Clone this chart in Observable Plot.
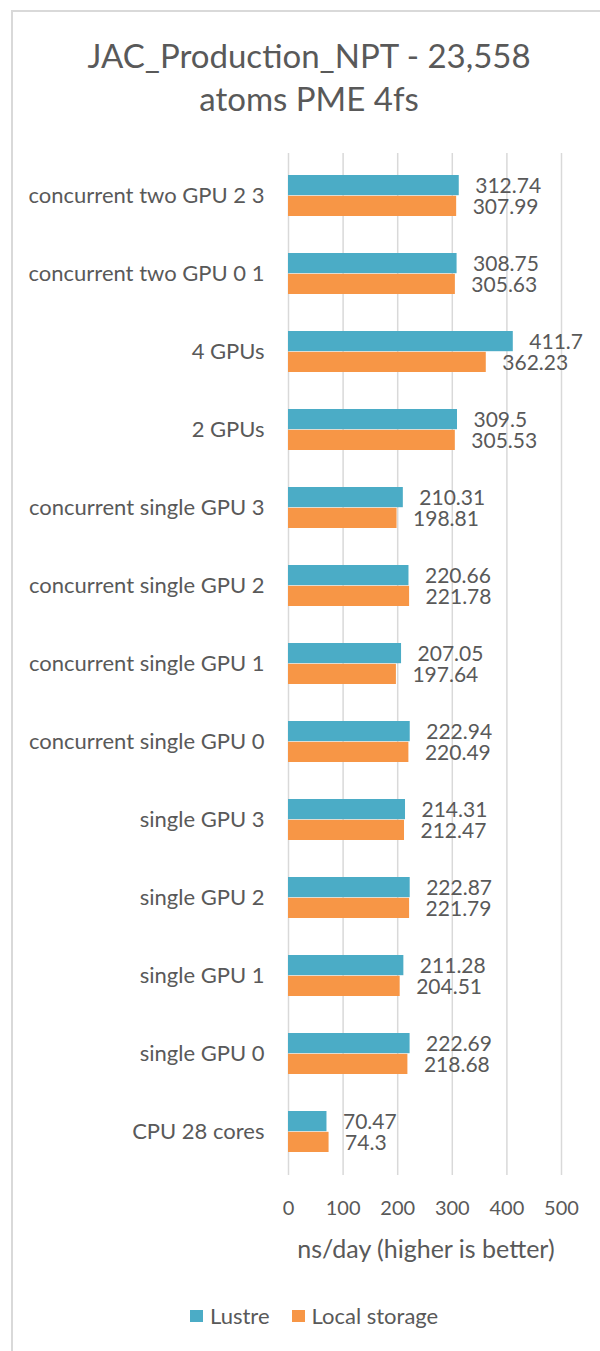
<!DOCTYPE html>
<html>
<head>
<meta charset="utf-8">
<script src="https://cdn.jsdelivr.net/npm/d3@7"></script>
<script src="https://cdn.jsdelivr.net/npm/@observablehq/plot@0.6"></script>
<style>
  html, body { margin: 0; padding: 0; background: #fff; }
  body { width: 600px; height: 1351px; overflow: hidden; position: relative; font-family: Lato, "Open Sans", sans-serif; color: #595959; }
  #frame { position: absolute; left: 11px; top: 10px; width: 700px; height: 1500px; border: 2px solid #d9d9d9; box-sizing: border-box; }
  #title { position: absolute; left: 0; width: 618px; top: 34px; text-align: center; font-size: 33px; line-height: 43px; }
  #chart { position: absolute; left: 0; top: 140px; }
  #xlabel { position: absolute; left: 226px; width: 400px; top: 1234px; text-align: center; font-size: 25px; line-height: 28px; white-space: nowrap; }
  #legend { position: absolute; left: 190px; top: 1302px; display: flex; align-items: center; font-size: 22px; line-height: 28px; }
  .sw { display: inline-block; width: 13px; height: 12px; margin-right: 7px; }
  .item { display: flex; align-items: center; margin-right: 22px; }
</style>
</head>
<body>
<div id="frame"></div>
<div id="title">JAC_Production_NPT - 23,558<br>atoms PME 4fs</div>
<div id="chart"></div>
<div id="xlabel">ns/day (higher is better)</div>
<div id="legend"></div>
<script>
const categories = [
  "concurrent two GPU 2 3",
  "concurrent two GPU 0 1",
  "4 GPUs",
  "2 GPUs",
  "concurrent single GPU 3",
  "concurrent single GPU 2",
  "concurrent single GPU 1",
  "concurrent single GPU 0",
  "single GPU 3",
  "single GPU 2",
  "single GPU 1",
  "single GPU 0",
  "CPU 28 cores"
];
const lustre = [312.74, 308.75, 411.7, 309.5, 210.31, 220.66, 207.05, 222.94, 214.31, 222.87, 211.28, 222.69, 70.47];
const localStorage = [307.99, 305.63, 362.23, 305.53, 198.81, 221.78, 197.64, 220.49, 212.47, 221.79, 204.51, 218.68, 74.3];
const seriesNames = ["Lustre", "Local storage"];
const seriesColors = ["#4bacc6", "#f79646"];
const xTicks = [0, 100, 200, 300, 400, 500];

const lustreRows = categories.map((c, i) => ({category: c, value: lustre[i]}));
const localRows = categories.map((c, i) => ({category: c, value: localStorage[i]}));

const chart = Plot.plot({
  width: 600,
  height: 1085,
  marginTop: 13,
  marginBottom: 50,
  marginLeft: 288,
  marginRight: 39,
  style: {fontFamily: "Lato, 'Open Sans', sans-serif", color: "#595959", background: "transparent"},
  x: {domain: [0, 500]},
  y: {domain: categories, paddingInner: 0.47, paddingOuter: 0.235},
  marks: [
    Plot.ruleX(xTicks, {stroke: "#d9d9d9", strokeWidth: 1.5}),
    Plot.barX(lustreRows, {x: "value", y: "category", fill: seriesColors[0], insetBottom: 20.8}),
    Plot.barX(localRows, {x: "value", y: "category", fill: seriesColors[1], insetTop: 20.8}),
    Plot.text(lustreRows, {x: "value", y: "category", text: d => String(d.value), textAnchor: "start", dx: 16, dy: -9.5, fontSize: 21, fill: "#595959"}),
    Plot.text(localRows, {x: "value", y: "category", text: d => String(d.value), textAnchor: "start", dx: 16, dy: 11.5, fontSize: 21, fill: "#595959"}),
    Plot.axisX({ticks: xTicks, tickSize: 0, tickPadding: 25, fontSize: 20, label: null, tickFormat: d => String(d)}),
    Plot.axisY({tickSize: 0, tickPadding: 24, fontSize: 22, label: null})
  ]
});
document.getElementById("chart").appendChild(chart);

const legend = document.getElementById("legend");
seriesNames.forEach((name, i) => {
  const item = document.createElement("div");
  item.className = "item";
  const sw = document.createElement("span");
  sw.className = "sw";
  sw.style.background = seriesColors[i];
  item.appendChild(sw);
  item.appendChild(document.createTextNode(name));
  legend.appendChild(item);
});
</script>
</body>
</html>
